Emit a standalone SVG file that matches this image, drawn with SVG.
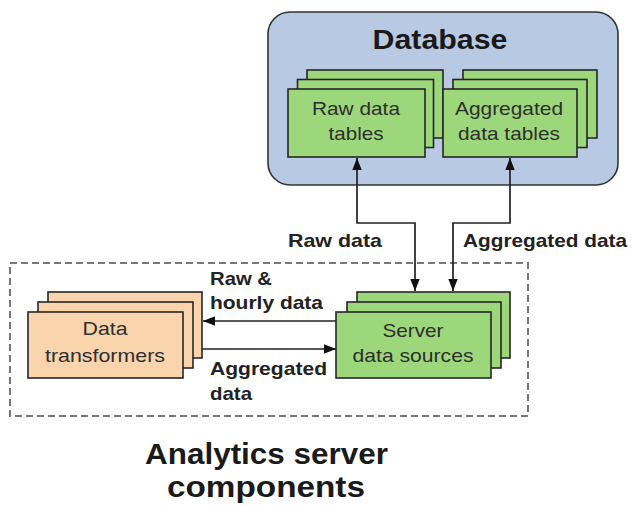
<svg xmlns="http://www.w3.org/2000/svg" width="633" height="506" viewBox="0 0 633 506">
  <style>
    .box { stroke: #262626; stroke-width: 1.6; }
    .green { fill: #9dd77b; }
    .peach { fill: #f9d4ad; }
    .inner { font-family: "Liberation Sans", Arial, sans-serif; font-size: 19px; fill: #2e2e2e; text-anchor: middle; }
    .lbl { font-family: "Liberation Sans", Arial, sans-serif; font-size: 19px; font-weight: bold; fill: #222222; }
    .title { font-family: "Liberation Sans", Arial, sans-serif; font-weight: bold; fill: #1a1a1a; text-anchor: middle; }
    .wire { fill: none; stroke: #222222; stroke-width: 1.7; }
  </style>
  <defs>
    <marker id="arrow" viewBox="0 0 12 10" refX="12" refY="5" markerWidth="12" markerHeight="10" markerUnits="userSpaceOnUse" orient="auto-start-reverse">
      <path d="M0,0.3 L12,5 L0,9.7 Z" fill="#111111"/>
    </marker>
  </defs>

  <rect width="633" height="506" fill="#ffffff"/>

  <!-- Database container -->
  <g id="database">
    <rect x="268" y="12" width="350" height="173" rx="22" fill="#b7c9e3" stroke="#333333" stroke-width="1.6"/>
    <text class="title" x="440" y="49" font-size="28" textLength="135" lengthAdjust="spacingAndGlyphs">Database</text>
  </g>

  <!-- Raw data tables (stacked) -->
  <g id="raw-tables">
    <rect class="box green" x="307" y="70" width="136" height="68"/>
    <rect class="box green" x="297.5" y="79.5" width="136" height="68"/>
    <rect class="box green" x="288" y="89" width="137" height="68"/>
    <text class="inner" x="356" y="115" textLength="88" lengthAdjust="spacingAndGlyphs">Raw data</text>
    <text class="inner" x="356" y="140" textLength="55" lengthAdjust="spacingAndGlyphs">tables</text>
  </g>

  <!-- Aggregated data tables (stacked) -->
  <g id="agg-tables">
    <rect class="box green" x="463" y="70" width="134" height="68"/>
    <rect class="box green" x="453" y="79.5" width="134" height="68"/>
    <rect class="box green" x="443" y="89" width="134" height="68"/>
    <text class="inner" x="509" y="115" textLength="108" lengthAdjust="spacingAndGlyphs">Aggregated</text>
    <text class="inner" x="509" y="140" textLength="102" lengthAdjust="spacingAndGlyphs">data tables</text>
  </g>

  <!-- Analytics server boundary -->
  <g id="analytics-server">
    <rect x="10" y="263" width="518" height="153" fill="none" stroke="#777777" stroke-width="2" stroke-dasharray="7 4"/>
    <text class="title" x="266.5" y="464" font-size="30" textLength="243" lengthAdjust="spacingAndGlyphs">Analytics server</text>
    <text class="title" x="266" y="497" font-size="30" textLength="198" lengthAdjust="spacingAndGlyphs">components</text>
  </g>

  <!-- Data transformers (stacked) -->
  <g id="data-transformers">
    <rect class="box peach" x="48" y="292" width="154" height="66"/>
    <rect class="box peach" x="38" y="302" width="155" height="66"/>
    <rect class="box peach" x="28" y="312" width="155" height="66"/>
    <text class="inner" x="105" y="335" textLength="45" lengthAdjust="spacingAndGlyphs">Data</text>
    <text class="inner" x="105" y="362" textLength="120" lengthAdjust="spacingAndGlyphs">transformers</text>
  </g>

  <!-- Server data sources (stacked) -->
  <g id="server-data-sources">
    <rect class="box green" x="357" y="292" width="153" height="66"/>
    <rect class="box green" x="347" y="302" width="154" height="66"/>
    <rect class="box green" x="336" y="312" width="155" height="66"/>
    <text class="inner" x="413" y="337" textLength="61" lengthAdjust="spacingAndGlyphs">Server</text>
    <text class="inner" x="413" y="362" textLength="121" lengthAdjust="spacingAndGlyphs">data sources</text>
  </g>

  <!-- Connectors -->
  <g id="connectors">
    <path class="wire" d="M357,158 L357,223 L415,223 L415,291" marker-start="url(#arrow)" marker-end="url(#arrow)"/>
    <path class="wire" d="M510,158 L510,223 L453,223 L453,291" marker-start="url(#arrow)" marker-end="url(#arrow)"/>
    <path class="wire" d="M336,321 L203,321" marker-end="url(#arrow)"/>
    <path class="wire" d="M202,349 L336,349" marker-end="url(#arrow)"/>
  </g>

  <!-- Connector labels -->
  <g id="connector-labels">
    <text class="lbl" x="288" y="247" textLength="94" lengthAdjust="spacingAndGlyphs">Raw data</text>
    <text class="lbl" x="463" y="247" textLength="164" lengthAdjust="spacingAndGlyphs">Aggregated data</text>
    <text class="lbl" x="210" y="285" textLength="62" lengthAdjust="spacingAndGlyphs">Raw &amp;</text>
    <text class="lbl" x="210" y="309" textLength="113" lengthAdjust="spacingAndGlyphs">hourly data</text>
    <text class="lbl" x="210" y="375" textLength="117" lengthAdjust="spacingAndGlyphs">Aggregated</text>
    <text class="lbl" x="210" y="400" textLength="42" lengthAdjust="spacingAndGlyphs">data</text>
  </g>
</svg>
